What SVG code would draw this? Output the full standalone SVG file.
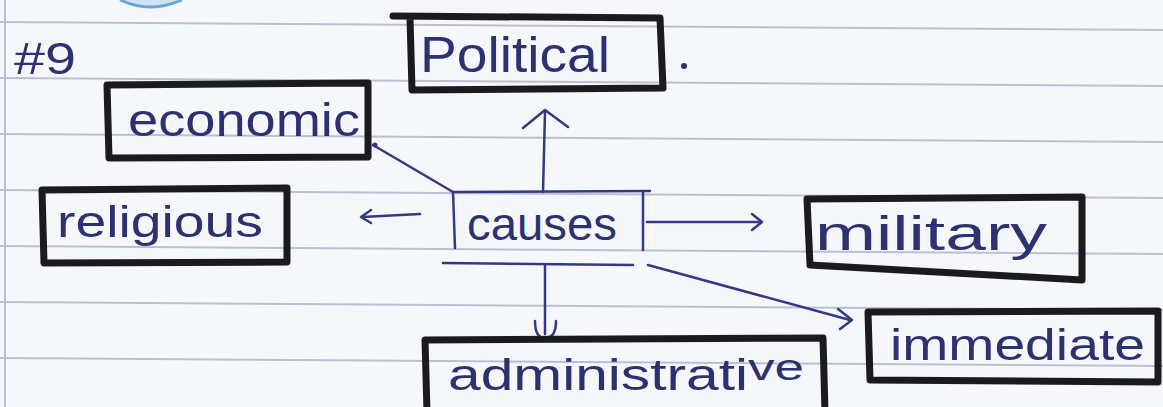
<svg xmlns="http://www.w3.org/2000/svg" width="1163" height="407" viewBox="0 0 1163 407">
  <defs>
    <style>
      .paper { fill: #f6f7fa; }
      .rule { stroke: #b7c1d4; stroke-width: 2; fill: none; }
      .box { fill: none; stroke: #1b1b1f; stroke-width: 7; stroke-linejoin: round; stroke-linecap: round; }
      .ink { fill: none; stroke: #333a85; stroke-width: 2.5; stroke-linecap: round; stroke-linejoin: round; }
      .label { font-family: "Liberation Sans", "DejaVu Sans", sans-serif; fill: #2c3170; }
    </style>
  </defs>

  <!-- paper -->
  <rect class="paper" x="0" y="0" width="1163" height="407"/>
  <g id="paper-rules">
    <line class="rule" x1="0" y1="22" x2="1163" y2="30"/>
    <line class="rule" x1="0" y1="78" x2="1163" y2="86"/>
    <line class="rule" x1="0" y1="134" x2="1163" y2="142"/>
    <line class="rule" x1="0" y1="190" x2="1163" y2="198"/>
    <line class="rule" x1="0" y1="246" x2="1163" y2="254"/>
    <line class="rule" x1="0" y1="302" x2="1163" y2="310"/>
    <line class="rule" x1="0" y1="358" x2="1163" y2="366"/>
    <line class="rule" x1="5" y1="0" x2="5" y2="407"/>
    <path d="M120,0 Q150,14 182,0" fill="#cfe3f3" stroke="#6aa6d8" stroke-width="3"/>
  </g>

  <!-- question number -->
  <text class="label" x="14" y="74" font-size="44" textLength="62" lengthAdjust="spacingAndGlyphs">#9</text>

  <!-- connectors -->
  <g id="connectors">
    <!-- to political -->
    <path class="ink" d="M543,192 L545,112"/>
    <path class="ink" d="M523,128 L545,110 L568,127"/>
    <!-- to economic -->
    <path class="ink" d="M453,192 L373,145"/>
    <circle cx="375" cy="145" r="2.5" fill="#333a85"/>
    <!-- to religious -->
    <path class="ink" d="M420,214 L362,217"/>
    <path class="ink" d="M371,210 L361,217 L371,223"/>
    <!-- to military -->
    <path class="ink" d="M647,222 L760,222"/>
    <path class="ink" d="M752,214 L762,222 L752,230"/>
    <!-- to immediate -->
    <path class="ink" d="M648,265 L850,320"/>
    <path class="ink" d="M838,309 L852,320 L840,329"/>
    <!-- to administrative -->
    <path class="ink" d="M545,265 L545,334"/>
    <path class="ink" d="M535,321 Q535,338 545,338 Q556,338 556,321"/>
  </g>

  <!-- nodes -->
  <g id="node-political">
    <path class="box" d="M393,16 L660,18 L663,88 L412,90 L410,18"/>
    <text class="label" x="420" y="72" font-size="50" textLength="190" lengthAdjust="spacingAndGlyphs">Political</text>
    <circle cx="684" cy="66" r="3" fill="#2c3170"/>
  </g>

  <g id="node-economic">
    <path class="box" d="M107,85 L368,83 L368,157 L109,158 Z"/>
    <text class="label" x="128" y="136" font-size="46" textLength="232" lengthAdjust="spacingAndGlyphs">economic</text>
  </g>

  <g id="node-religious">
    <path class="box" d="M42,190 L287,188 L287,262 L44,263 Z"/>
    <text class="label" x="57" y="237" font-size="44" textLength="206" lengthAdjust="spacingAndGlyphs">religious</text>
  </g>

  <g id="node-causes">
    <path class="ink" d="M453,192 L650,191"/>
    <path class="ink" d="M453,192 L455,248"/>
    <path class="ink" d="M643,191 L643,250"/>
    <path class="ink" d="M443,263 L633,265"/>
    <text class="label" x="467" y="240" font-size="46" textLength="150" lengthAdjust="spacingAndGlyphs">causes</text>
  </g>

  <g id="node-military">
    <path class="box" d="M807,199 L1082,197 L1082,280 L810,265 Z"/>
    <text class="label" x="815" y="250" font-size="48" textLength="232" lengthAdjust="spacingAndGlyphs">military</text>
  </g>

  <g id="node-immediate">
    <path class="box" d="M868,312 L1158,311 L1158,382 L870,380 Z"/>
    <text class="label" x="890" y="360" font-size="44" textLength="255" lengthAdjust="spacingAndGlyphs">immediate</text>
  </g>

  <g id="node-administrative">
    <path class="box" d="M427,412 L425,340 L823,338 L825,412"/>
    <text class="label" x="448" y="390" font-size="44"><tspan textLength="300" lengthAdjust="spacingAndGlyphs">administrati</tspan><tspan dy="-10" font-size="36" textLength="56" lengthAdjust="spacingAndGlyphs">ve</tspan></text>
  </g>
</svg>
